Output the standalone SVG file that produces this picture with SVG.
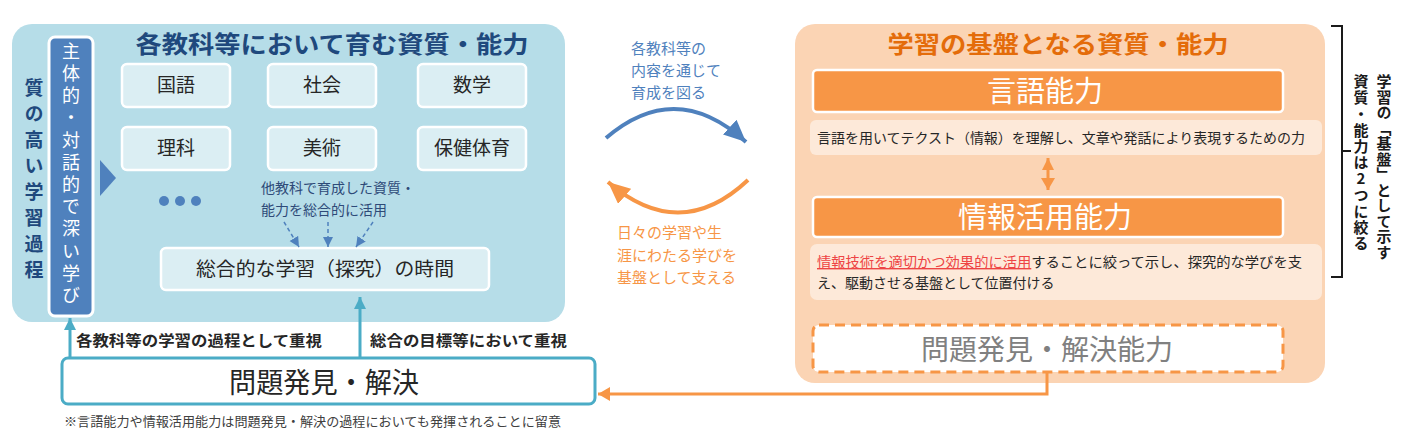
<svg xmlns="http://www.w3.org/2000/svg" width="1405" height="439" viewBox="0 0 1405 439">
<style>
text{font-family:"Noto Sans CJK JP","Noto Sans",sans-serif;}
.subj{fill:#dbeef3;stroke:#fff;stroke-width:2.5;}
.subjt{font-size:19px;fill:#262626;text-anchor:middle;}
.vert{writing-mode:vertical-rl;text-orientation:upright;}
.ttl{font-size:24px;font-weight:700;text-anchor:middle;}
.orgbox{fill:#f79646;stroke:#fff;stroke-width:2.5;}
.orgt{font-size:29px;fill:#fff;text-anchor:middle;}
.desc{fill:#fde9d9;}
.desct{font-size:14px;fill:#262626;}
.lbl{font-size:15px;font-weight:700;fill:#262626;}
.teal{stroke:#4bacc6;stroke-width:3;fill:none;}
</style>
<defs>
<marker id="aBlue" markerUnits="userSpaceOnUse" markerWidth="24" markerHeight="20" refX="22" refY="10" orient="auto"><path d="M0,0 L22,10 L0,20 Z" fill="#4f81bd"/></marker>
<marker id="aOrg" markerUnits="userSpaceOnUse" markerWidth="24" markerHeight="20" refX="22" refY="10" orient="auto"><path d="M0,0 L22,10 L0,20 Z" fill="#f79646"/></marker>
<marker id="aTeal" markerUnits="userSpaceOnUse" markerWidth="14" markerHeight="14" refX="12" refY="7" orient="auto"><path d="M0,1 L12,7 L0,13 Z" fill="#4bacc6"/></marker>
<marker id="aOrgS" markerUnits="userSpaceOnUse" markerWidth="14" markerHeight="16" refX="12" refY="8" orient="auto"><path d="M0,1 L12,8 L0,15 Z" fill="#f79646"/></marker>
<marker id="aOrgS2" markerUnits="userSpaceOnUse" markerWidth="14" markerHeight="14" refX="12" refY="7" orient="auto-start-reverse"><path d="M0,1 L12,7 L0,13 Z" fill="#f79646"/></marker>
<marker id="aDash" markerUnits="userSpaceOnUse" markerWidth="12" markerHeight="12" refX="10" refY="6" orient="auto"><path d="M0,1 L10,6 L0,11 Z" fill="#4f81bd"/></marker>
</defs>

<g id="left-panel">
<rect x="12" y="24" width="553" height="298" rx="20" fill="#b6dde8"/>
<text class="ttl" x="332" y="53" fill="#1f497d" textLength="393" lengthAdjust="spacingAndGlyphs">各教科等において育む資質・能力</text>
</g>

<g id="quality-process">
<text class="vert" x="34" y="78" font-size="19" font-weight="700" fill="#1f497d" letter-spacing="7">質の高い学習過程</text>
</g>

<g id="active-learning">
<rect x="49" y="37" width="44" height="279" rx="6" fill="#4f81bd" stroke="#fff" stroke-width="3"/>
<text class="vert" x="71" y="42" font-size="18" fill="#fff" letter-spacing="4.2">主体的・対話的で深い学び</text>
<path d="M100,160 L116,178 L100,196 Z" fill="#4f81bd"/>
</g>

<g id="subj-kokugo"><rect class="subj" x="122" y="64" width="108" height="43" rx="5"/><text class="subjt" x="176" y="92">国語</text></g>
<g id="subj-shakai"><rect class="subj" x="268" y="64" width="108" height="43" rx="5"/><text class="subjt" x="322" y="92">社会</text></g>
<g id="subj-sugaku"><rect class="subj" x="418" y="64" width="108" height="43" rx="5"/><text class="subjt" x="472" y="92">数学</text></g>
<g id="subj-rika"><rect class="subj" x="122" y="127" width="108" height="43" rx="5"/><text class="subjt" x="176" y="155">理科</text></g>
<g id="subj-bijutsu"><rect class="subj" x="268" y="127" width="108" height="43" rx="5"/><text class="subjt" x="322" y="155">美術</text></g>
<g id="subj-hoken"><rect class="subj" x="418" y="127" width="108" height="43" rx="5"/><text class="subjt" x="472" y="155">保健体育</text></g>

<g id="dots">
<circle cx="164" cy="201" r="5" fill="#4f81bd"/>
<circle cx="180" cy="201" r="5" fill="#4f81bd"/>
<circle cx="196" cy="201" r="5" fill="#4f81bd"/>
</g>

<g id="other-subjects-note">
<text x="261" y="193" font-size="14" fill="#2e4a78">他教科で育成した資質・</text>
<text x="261" y="215" font-size="14" fill="#2e4a78">能力を総合的に活用</text>
</g>

<g id="sogo">
<rect class="subj" x="161" y="248" width="328" height="42" rx="5"/>
<text x="325" y="276" font-size="19" fill="#262626" text-anchor="middle" textLength="258" lengthAdjust="spacingAndGlyphs">総合的な学習（探究）の時間</text>
</g>

<g id="middle-labels">
<text x="631" y="54" font-size="15" fill="#4f81bd">各教科等の</text>
<text x="631" y="76" font-size="15" fill="#4f81bd">内容を通じて</text>
<text x="631" y="98" font-size="15" fill="#4f81bd">育成を図る</text>
<text x="617" y="238" font-size="15" fill="#f79646">日々の学習や生</text>
<text x="617" y="261" font-size="15" fill="#f79646">涯にわたる学びを</text>
<text x="617" y="283" font-size="15" fill="#f79646">基盤として支える</text>
</g>

<g id="right-panel">
<rect x="795" y="24" width="530" height="359" rx="20" fill="#fbd4b4"/>
<text class="ttl" x="1058" y="53" fill="#e46c0a" textLength="341" lengthAdjust="spacingAndGlyphs">学習の基盤となる資質・能力</text>
</g>

<g id="gengo">
<rect class="orgbox" x="813" y="70" width="470" height="42" rx="4"/>
<text class="orgt" x="1045" y="102">言語能力</text>
<rect class="desc" x="810" y="120" width="512" height="35" rx="6"/>
<text class="desct" x="817" y="143" textLength="488" lengthAdjust="spacingAndGlyphs">言語を用いてテクスト（情報）を理解し、文章や発話により表現するための力</text>
</g>

<g id="joho">
<rect class="orgbox" x="813" y="197" width="470" height="40" rx="4"/>
<text class="orgt" x="1045" y="228">情報活用能力</text>
<rect class="desc" x="810" y="244" width="512" height="56" rx="7"/>
<text class="desct" x="817" y="267" textLength="485" lengthAdjust="spacingAndGlyphs"><tspan fill="#ee4444" text-decoration="underline">情報技術を適切かつ効果的に活用</tspan>することに絞って示し、探究的な学びを支</text>
<text class="desct" x="817" y="288">え、駆動させる基盤として位置付ける</text>
</g>

<g id="mondai-noryoku">
<rect x="813" y="325" width="470" height="47" rx="6" fill="#fff" stroke="#f79646" stroke-width="3" stroke-dasharray="10,6"/>
<text x="1047" y="360" font-size="28" fill="#808080" text-anchor="middle">問題発見・解決能力</text>
</g>

<g id="bracket">
<path d="M1331,26 L1342,26 L1342,277 L1331,277 M1342,151 L1351,151" fill="none" stroke="#1a1a1a" stroke-width="2"/>
<text class="vert" x="1384" y="74" font-size="15" font-weight="700" fill="#1a1a1a" letter-spacing="0.5">学習の「基盤」として示す</text>
<text class="vert" x="1361" y="74" font-size="15" font-weight="700" fill="#1a1a1a" letter-spacing="1.2">資質・能力は2つに絞る</text>
</g>

<g id="mondai">
<rect x="62" y="358" width="533" height="46" rx="6" fill="#fff" stroke="#4bacc6" stroke-width="3"/>
<text x="324" y="393" font-size="28" fill="#262626" text-anchor="middle" textLength="190" lengthAdjust="spacingAndGlyphs">問題発見・解決</text>
</g>

<g id="footnote">
<text x="64" y="426" font-size="13" fill="#404040" textLength="497" lengthAdjust="spacingAndGlyphs">※言語能力や情報活用能力は問題発見・解決の過程においても発揮されることに留意</text>
</g>

<g id="connectors">
<path d="M606,138 Q676,78 746,142" fill="none" stroke="#4f81bd" stroke-width="4" marker-end="url(#aBlue)"/>
<path d="M748,180 Q680,244 608,182" fill="none" stroke="#f79646" stroke-width="4" marker-end="url(#aOrg)"/>
<g stroke="#4f81bd" stroke-width="1.5" stroke-dasharray="4,3" fill="none">
<path d="M284,222 L299,247" marker-end="url(#aDash)"/>
<path d="M328,222 L328,247" marker-end="url(#aDash)"/>
<path d="M373,222 L356,247" marker-end="url(#aDash)"/>
</g>
<path class="teal" d="M70,357 L70,318" marker-end="url(#aTeal)"/>
<path class="teal" d="M360,357 L360,297" marker-end="url(#aTeal)"/>
<path d="M1047,373 L1047,394 L598,394" fill="none" stroke="#f79646" stroke-width="3" marker-end="url(#aOrgS)"/>
<path d="M1048,158 L1048,190" fill="none" stroke="#f79646" stroke-width="3" marker-start="url(#aOrgS2)" marker-end="url(#aOrgS)"/>
<text class="lbl" x="76" y="346" textLength="246" lengthAdjust="spacingAndGlyphs">各教科等の学習の過程として重視</text>
<text class="lbl" x="370" y="346" textLength="197" lengthAdjust="spacingAndGlyphs">総合の目標等において重視</text>
</g>
</svg>
